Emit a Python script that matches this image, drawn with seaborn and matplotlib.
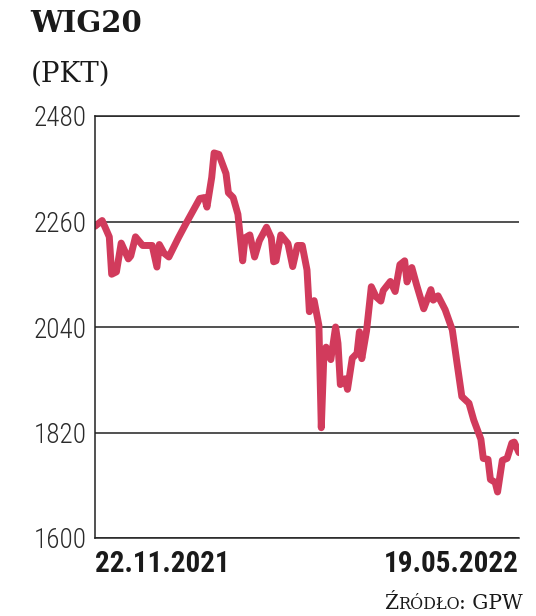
#!/usr/bin/env python3
import pandas as pd
import seaborn as sns
import matplotlib.pyplot as plt

# WIG20 closing values, days counted from 22.11.2021
start = '2021-11-22'
days = [0, 3, 6, 7, 9, 11, 14, 15, 17, 20,
        24, 26, 27, 29, 31, 35, 38, 40, 44, 46,
        47, 49, 50, 52, 55, 56, 58, 60, 62, 63,
        65, 67, 69, 72, 74, 75, 76, 78, 81, 83,
        85, 87, 89, 90, 92, 94, 95, 96, 97, 99,
        101, 102, 103, 105, 106, 108, 110, 111, 112, 114,
        116, 118, 120, 121, 124, 126, 128, 130, 131, 133,
        135, 138, 141, 142, 144, 147, 150, 152, 154, 157,
        159, 162, 163, 165, 166, 168, 169, 171, 173, 175,
        176, 178]
wig20 = [2250, 2262, 2228, 2150, 2155, 2215, 2182, 2188, 2228, 2210,
         2210, 2165, 2212, 2194, 2186, 2226, 2254, 2272, 2308, 2310,
         2290, 2352, 2403, 2400, 2360, 2320, 2310, 2275, 2178, 2226,
         2232, 2186, 2220, 2248, 2226, 2176, 2178, 2232, 2214, 2166,
         2210, 2210, 2159, 2072, 2095, 2043, 1830, 1970, 1998, 1972,
         2040, 2006, 1920, 1932, 1910, 1975, 1985, 2030, 1974, 2032,
         2124, 2103, 2094, 2116, 2135, 2114, 2170, 2178, 2134, 2164,
         2128, 2078, 2118, 2096, 2105, 2076, 2034, 1964, 1895, 1881,
         1846, 1806, 1766, 1764, 1722, 1716, 1696, 1762, 1766, 1798,
         1800, 1778]
yticks = [1600, 1820, 2040, 2260, 2480]
date_labels = ['22.11.2021', '19.05.2022']

df = pd.DataFrame({
    'data': pd.Timestamp(start) + pd.to_timedelta(days, unit='D'),
    'pkt': wig20,
})

sns.set_theme(style='white')
plt.rcParams['font.family'] = ['DejaVu Sans']
cond = ['Roboto Condensed', 'DejaVu Sans']

W, H = 536, 616
fig = plt.figure(figsize=(W / 100, H / 100), dpi=100)
ax = fig.add_axes([95 / W, 78 / H, 424 / W, 422 / H])

sns.lineplot(data=df, x='data', y='pkt', ax=ax, color='#d13b5c', lw=5,
             solid_capstyle='round', solid_joinstyle='round')

ax.set_ylim(yticks[0], yticks[-1])
ax.set_xlim(df.data.iloc[0], df.data.iloc[-1])
ax.set_yticks(yticks)
ax.set_yticklabels([str(v) for v in yticks], fontfamily=cond, fontweight='light',
                   fontsize=19.5, color='#2a2a2a')
ax.set_xticks([df.data.iloc[0], df.data.iloc[-1]])
ax.set_xticklabels(date_labels, fontfamily=cond, fontweight='bold',
                   fontsize=21, color='#1a1a1a')
for lab, ha in zip(ax.get_xticklabels(), ['left', 'right']):
    lab.set_ha(ha)
ax.tick_params(axis='y', length=0, pad=6)
ax.tick_params(axis='x', length=0, pad=9)
ax.set(xlabel=None, ylabel=None)

ax.yaxis.grid(True, color='#222222', lw=1.1)
for side in ['left', 'bottom', 'top']:
    ax.spines[side].set_color('#222222')
    ax.spines[side].set_linewidth(1.1)
ax.spines['right'].set_visible(False)

fig.text(30 / W, 1 - 32 / H, 'WIG20', fontfamily='DejaVu Serif', fontweight='heavy',
         fontsize=21, color='#1a1a1a', va='baseline')
fig.text(31 / W, 1 - 82 / H, '(PKT)', fontfamily='DejaVu Serif',
         fontsize=20, color='#1a1a1a', va='baseline')

# source line with small caps built from pieces, right to left
r = fig.canvas.get_renderer()
x = 523
for txt, size in [(': GPW', 14.5), ('RÓDŁO', 11.5), ('Ź', 14.5)]:
    t = fig.text(x / W, 1 - 609 / H, txt, fontfamily='DejaVu Serif', fontsize=size,
                 color='#1a1a1a', ha='right', va='baseline')
    x = t.get_window_extent(r).x0

fig.savefig('out.png', dpi=100)
